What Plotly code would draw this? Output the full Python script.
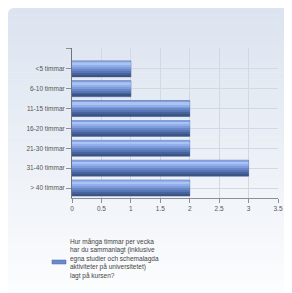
import plotly.graph_objects as go

categories = ["<5 timmar", "6-10 timmar", "11-15 timmar", "16-20 timmar",
              "21-30 timmar", "31-40 timmar", "> 40 timmar"]
values = [1, 1, 2, 2, 2, 3, 2]
x_ticks = [0, 0.5, 1, 1.5, 2, 2.5, 3, 3.5]
series_name = ("Hur många timmar per vecka<br>har du sammanlagt (inklusive<br>"
               "egna studier och schemalagda<br>aktiviteter på universitetet)<br>lagt på kursen?")
series_color = "#6b8acd"

ypos = list(range(len(categories)))

W, H = 284, 285  # page body adds an 8px margin
L, R, T, B = 64, 14, 40, 95
PW, PH = W - L - R, H - T - B


def px_x(p):
    return (p - L) / PW


def px_y(p):
    return (T + PH - p) / PH


fig = go.Figure()

# main bar
fig.add_trace(go.Bar(
    x=values, y=ypos, orientation="h", width=0.8, name="Hur många timmar per vecka",
    marker=dict(color=series_color, line=dict(color="#3b5488", width=0.6)),
    showlegend=False, hoverinfo="x+y"))

# gradient stripes (styling only)
stripes = [(-0.38, 0.05, "#7f9de0"), (-0.33, 0.15, "#a9c3f3"), (-0.18, 0.10, "#93afea"),
           (-0.08, 0.10, "#7e9cdd"), (0.02, 0.10, "#6987c8"), (0.12, 0.10, "#5876b4"),
           (0.22, 0.09, "#48639c"), (0.31, 0.07, "#3b5486")]
for off, w, col in stripes:
    fig.add_trace(go.Bar(
        x=values, y=ypos, orientation="h", offset=off, width=w,
        marker=dict(color=col, line=dict(width=0)), showlegend=False, hoverinfo="skip"))

# background panel gradient with rounded top-left corner
x0p, x1p = px_x(-1), px_x(W + 1)
top_py, bot_py = 0, H
nb = 40
c_top = (220, 228, 240)
c_bot = (252, 253, 254)
shapes = []
for i in range(nb):
    py0 = top_py + (bot_py - top_py) * i / nb
    py1 = top_py + (bot_py - top_py) * (i + 1) / nb + 0.5
    t = i / (nb - 1)
    col = "rgb(%d,%d,%d)" % tuple(int(c_top[k] + (c_bot[k] - c_top[k]) * t) for k in range(3))
    y0 = px_y(py0)
    y1 = px_y(py1)
    if i == 0:
        r = 6
        xa = px_x(0)
        xr = r / PW
        yr = r / PH
        path = (f"M {xa},{y1} L {xa},{y0 - yr} Q {xa},{y0} {xa + xr},{y0} "
                f"L {x1p},{y0} L {x1p},{y1} Z")
        shapes.append(dict(type="path", xref="paper", yref="paper", path=path,
                           fillcolor=col, line=dict(width=0), layer="below"))
    else:
        shapes.append(dict(type="rect", xref="paper", yref="paper", x0=px_x(0), x1=x1p,
                           y0=y1, y1=y0, fillcolor=col, line=dict(width=0), layer="below"))

# legend swatch
shapes.append(dict(type="rect", xref="paper", yref="paper",
                   x0=px_x(44), x1=px_x(58), y0=px_y(256), y1=px_y(252),
                   fillcolor=series_color, line=dict(color="#4a64a0", width=0.5)))

annotations = [dict(xref="paper", yref="paper", x=px_x(60), y=px_y(251),
                    xanchor="left", yanchor="middle", align="left", showarrow=False,
                    text=series_name, font=dict(size=6.5, color="#444"))]

fig.update_layout(
    width=W, height=H,
    margin=dict(l=L, r=R, t=T, b=B, autoexpand=False),
    barmode="overlay",
    paper_bgcolor="white",
    plot_bgcolor="rgba(255,255,255,0.25)",
    font=dict(family="Liberation Sans, Arial, sans-serif", size=6, color="#444"),
    shapes=shapes,
    annotations=annotations,
    showlegend=False,
    xaxis=dict(range=[0, 3.5], tickvals=x_ticks, showgrid=True, gridcolor="#d3d9e3",
               gridwidth=1, zeroline=False, showline=True, linecolor="#8a8f99",
               ticks="outside", ticklen=4, tickcolor="#8a8f99",
               tickfont=dict(size=6.5, color="#555"), fixedrange=True, automargin=False),
    yaxis=dict(range=[6.5, -1.05], tickvals=[-1] + ypos, ticktext=[""] + categories,
               showgrid=True, gridcolor="#d3d9e3", zeroline=False, showline=True,
               linecolor="#6f7480", ticks="outside", ticklen=5, tickcolor="#8a8f99",
               tickfont=dict(size=6.5, color="#555"), fixedrange=True, automargin=False),
)

fig.write_html("out.html")
